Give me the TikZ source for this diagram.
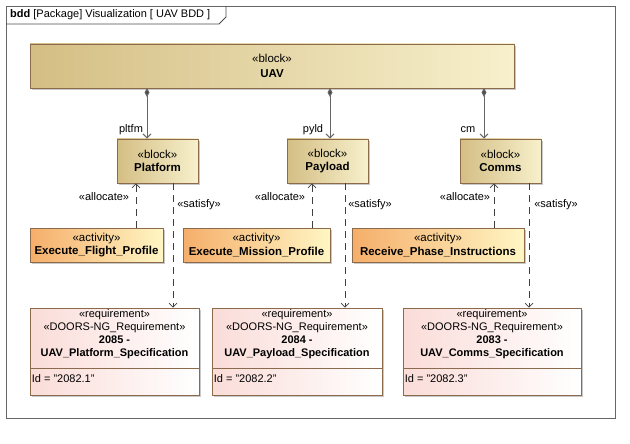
\documentclass[tikz,border=0pt]{standalone}
\usepackage{fontspec}
\setmainfont{Liberation Sans}
\usetikzlibrary{arrows.meta,shadows}
\definecolor{blockdark}{HTML}{D4BE84}
\definecolor{blocklight}{HTML}{F7F0CC}
\definecolor{actdark}{HTML}{F5AE6A}
\definecolor{actlight}{HTML}{FFF6C4}
\definecolor{reqdark}{HTML}{FADCD8}
\definecolor{edgebrown}{HTML}{8C6B4C}
\tikzset{
  umlbox/.style={draw=edgebrown,line width=0.8pt,inner sep=1pt,align=center,font=\fontsize{11.5}{13.5}\selectfont,
    drop shadow={shadow xshift=2pt,shadow yshift=-2pt,fill=black!30,opacity=0.7}},
  block/.style={umlbox,left color=blockdark,right color=blocklight},
  activity/.style={umlbox,left color=actdark,right color=actlight},
  requirement/.style={umlbox,left color=reqdark,right color=white},
  lbl/.style={font=\fontsize{11}{12.5}\selectfont,inner sep=0pt},
  part/.style={draw=black!60,line width=1pt,{Diamond[length=9pt,width=5pt,fill=black!70]}-{Straight Barb[length=4pt,width=8pt]}},
  dep/.style={draw=black!75,line width=0.7pt,dash pattern=on 7pt off 5pt,-{Straight Barb[length=4pt,width=8pt]}},
}
\begin{document}
\begin{tikzpicture}[x=1pt,y=-1pt]
\useasboundingbox (0,0) rectangle (630,444);
%% frame
\draw[black!60,line width=0.8pt] (6,6) rectangle (615,418);
\draw[black!70,line width=0.8pt] (6,24) -- (219,24) -- (226,17) -- (226,6);
\node[lbl,anchor=west] (title) at (10,15) {\textbf{bdd} [Package] Visualization [ UAV BDD ]};
%% blocks
\node[block,minimum width=484pt,minimum height=44pt] (UAV) at (272,66) {«block»\\[1pt]\textbf{UAV}};
\node[block,minimum width=81pt,minimum height=44pt] (Platform) at (157.5,161) {«block»\\\textbf{Platform}};
\node[block,minimum width=81pt,minimum height=44pt] (Payload) at (327.5,161) {«block»\\\textbf{Payload}};
\node[block,minimum width=81pt,minimum height=44pt] (Comms) at (500.5,161) {«block»\\\textbf{Comms}};
%% activities
\node[activity,minimum width=133pt,minimum height=34pt] (FlightProfile) at (96.5,245) {«activity»\\\textbf{Execute\_Flight\_Profile}};
\node[activity,minimum width=147pt,minimum height=34pt] (MissionProfile) at (256.5,245) {«activity»\\\textbf{Execute\_Mission\_Profile}};
\node[activity,minimum width=172pt,minimum height=34pt] (PhaseInstructions) at (438,245) {«activity»\\\textbf{Receive\_Phase\_Instructions}};
%% requirements
\node[requirement,minimum width=169pt,minimum height=87pt] (PlatformSpec) at (114.5,351.5) {};
\node[requirement,minimum width=170pt,minimum height=87pt] (PayloadSpec) at (297,351.5) {};
\node[requirement,minimum width=178pt,minimum height=87pt] (CommsSpec) at (492,351.5) {};
\foreach \r/\num/\txt/\id in {PlatformSpec/2085/Platform/2082.1,PayloadSpec/2084/Payload/2082.2,CommsSpec/2083/Comms/2082.3}{
  \draw[edgebrown,line width=0.8pt] (\r.west |- 0,368) -- (\r.east |- 0,368);
  \node[lbl,align=center,anchor=north,font=\fontsize{11}{13}\selectfont] (\r-head) at ([yshift=-2pt]\r.north) {«requirement»\\«DOORS-NG\_Requirement»\\\textbf{\num\ -}\\\textbf{UAV\_\txt\_Specification}};
  \node[lbl,anchor=west] (\r-id) at ([xshift=2pt]\r.west |- 0,379) {Id = "\id"};
}
%% part associations
\draw[part] (147,88) coordinate (p1) -- (p1 |- Platform.north);
\draw[part] (330,88) coordinate (p2) -- (p2 |- Payload.north);
\draw[part] (484,88) coordinate (p3) -- (p3 |- Comms.north);
\node[lbl] (pltfm) at (131,130) {pltfm};
\node[lbl] (pyld) at (313,130) {pyld};
\node[lbl] (cm) at (468,130) {cm};
%% allocate
\draw[dep] (FlightProfile.north -| 136,0) -- (Platform.south -| 136,0);
\draw[dep] (MissionProfile.north -| 312,0) -- (Payload.south -| 312,0);
\draw[dep] (PhaseInstructions.north -| 494,0) -- (Comms.south -| 494,0);
\node[lbl] (alloc1) at (104,197) {«allocate»};
\node[lbl] (alloc2) at (280,197) {«allocate»};
\node[lbl] (alloc3) at (465,197) {«allocate»};
%% satisfy
\draw[dep] (Platform.south -| 173,0) -- (PlatformSpec.north -| 173,0);
\draw[dep] (Payload.south -| 345,0) -- (PayloadSpec.north -| 345,0);
\draw[dep] (Comms.south -| 529,0) -- (CommsSpec.north -| 529,0);
\node[lbl] (sat1) at (199,205) {«satisfy»};
\node[lbl] (sat2) at (370,205) {«satisfy»};
\node[lbl] (sat3) at (556,205) {«satisfy»};
\end{tikzpicture}
\end{document}
